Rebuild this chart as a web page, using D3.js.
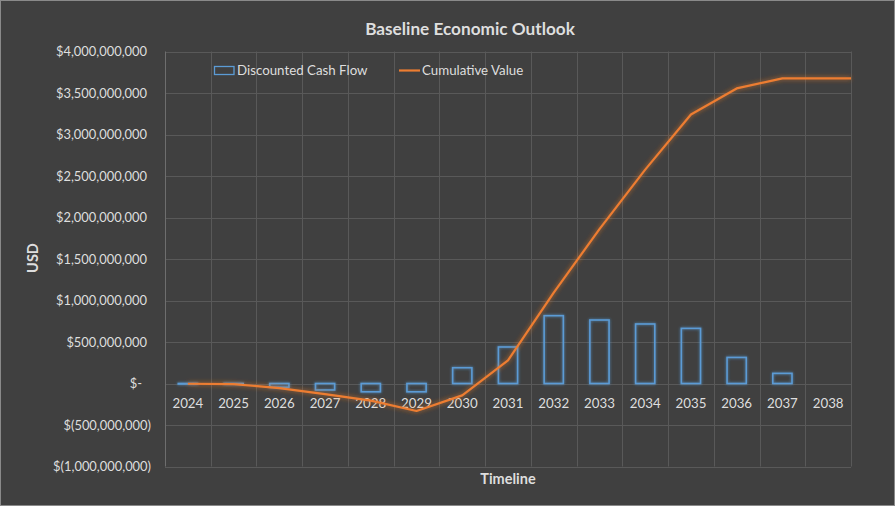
<!DOCTYPE html>
<html>
<head>
<meta charset="utf-8">
<script src="https://cdn.jsdelivr.net/npm/d3@7"></script>
<style>
  html, body { margin: 0; padding: 0; background: #404040; }
  svg { display: block; }
  text { font-family: Lato, "Open Sans", sans-serif; fill: #dedede; }
</style>
</head>
<body>
<script>
// ---- data ----
const years = ["2024","2025","2026","2027","2028","2029","2030","2031","2032","2033","2034","2035","2036","2037","2038"];
const discountedCashFlow = [-3e6, -5e6, -45e6, -78e6, -100e6, -100e6, 190e6, 440e6, 817e6, 765e6, 717e6, 664e6, 314e6, 122e6, 0];
const cumulativeValue = [-3e6, -8e6, -55e6, -127e6, -207e6, -331e6, -143e6, 278e6, 1095e6, 1860e6, 2577e6, 3241e6, 3555e6, 3677e6, 3677e6];
const yTicks = [-1e9, -5e8, 0, 5e8, 1e9, 1.5e9, 2e9, 2.5e9, 3e9, 3.5e9, 4e9];
const chartTitle = "Baseline Economic Outlook";
const xTitle = "Timeline";
const yTitle = "USD";
const seriesNames = ["Discounted Cash Flow", "Cumulative Value"];

// ---- layout ----
const W = 895, H = 506;
const plot = { left: 165, right: 851, top: 51.5, bottom: 466.5 };
const barColor = "#5b9bd5", lineColor = "#ed7d31";

const svg = d3.select("body").append("svg").attr("width", W).attr("height", H);

const defs = svg.append("defs");
function glow(id, color, sd, op) {
  const f = defs.append("filter").attr("id", id)
    .attr("x", "-50%").attr("y", "-50%").attr("width", "200%").attr("height", "200%");
  f.append("feGaussianBlur").attr("in", "SourceAlpha").attr("stdDeviation", sd).attr("result", "b");
  f.append("feFlood").attr("flood-color", color).attr("flood-opacity", op).attr("result", "c");
  f.append("feComposite").attr("in", "c").attr("in2", "b").attr("operator", "in").attr("result", "g");
  const m = f.append("feMerge");
  m.append("feMergeNode").attr("in", "g");
  m.append("feMergeNode").attr("in", "g");
  m.append("feMergeNode").attr("in", "SourceGraphic");
}
glow("glowBlue", barColor, 1.8, 0.45);
glow("glowOrange", lineColor, 2.4, 0.4);

svg.append("rect").attr("x", 0.5).attr("y", 0.5).attr("width", W - 1).attr("height", H - 1)
  .attr("fill", "#404040").attr("stroke", "#8a8a8a").attr("stroke-width", 1);

const x = d3.scaleBand().domain(years).range([plot.left, plot.right]).paddingInner(0).paddingOuter(0);
const y = d3.scaleLinear().domain([-1e9, 4e9]).range([plot.bottom, plot.top]);

// horizontal gridlines
svg.append("g").selectAll("line").data(yTicks).join("line")
  .attr("x1", plot.left).attr("x2", plot.right)
  .attr("y1", d => Math.round(y(d)) + 0.5).attr("y2", d => Math.round(y(d)) + 0.5)
  .attr("stroke", "#595959").attr("stroke-width", 1);

// vertical gridlines at category boundaries
const bounds = years.map(d => x(d)).concat([x.range()[1]]);
svg.append("g").selectAll("line").data(bounds.slice(1)).join("line")
  .attr("x1", d => Math.round(d) + 0.5).attr("x2", d => Math.round(d) + 0.5)
  .attr("y1", plot.top).attr("y2", plot.bottom)
  .attr("stroke", "#595959").attr("stroke-width", 1);

// left axis line
svg.append("line").attr("x1", plot.left + 0.5).attr("x2", plot.left + 0.5)
  .attr("y1", plot.top).attr("y2", plot.bottom).attr("stroke", "#6e6e6e");

// y tick labels (accounting format)
const fmt = d3.format(",.0f");
function acct(v) {
  if (v === 0) return "$-";
  if (v < 0) return "$(" + fmt(-v) + ")";
  return "$" + fmt(v);
}
svg.append("g").selectAll("text").data(yTicks).join("text")
  .attr("x", d => d < 0 ? 151 : (d === 0 ? 142 : 147))
  .attr("y", d => y(d) + 4.5)
  .attr("text-anchor", "end")
  .style("font-size", "12.9px")
  .text(acct);

// x tick labels
svg.append("g").selectAll("text").data(years).join("text")
  .attr("x", d => x(d) + x.bandwidth() / 2)
  .attr("y", y(0) + 24.5)
  .attr("text-anchor", "middle")
  .style("font-size", "13.3px")
  .text(d => d);

// bars
const barW = x.bandwidth() * 0.42;
svg.append("g").attr("filter", "url(#glowBlue)").selectAll("rect")
  .data(years.map((d, i) => ({ year: d, v: discountedCashFlow[i] })).filter(d => d.v !== 0))
  .join("rect")
  .attr("x", d => x(d.year) + (x.bandwidth() - barW) / 2)
  .attr("y", d => y(Math.max(0, d.v)))
  .attr("width", barW)
  .attr("height", d => Math.max(0.5, Math.abs(y(d.v) - y(0))))
  .attr("fill", "none").attr("stroke", barColor).attr("stroke-width", 1.6);

// cumulative line (extended flat to the plot edge as in the reference)
const pts = years.map((d, i) => [x(d) + x.bandwidth() / 2, y(cumulativeValue[i])]);
pts.push([x.range()[1], y(cumulativeValue[cumulativeValue.length - 1])]);
svg.append("path").attr("d", d3.line()(pts))
  .attr("fill", "none").attr("stroke", lineColor).attr("stroke-width", 2.2)
  .attr("stroke-linejoin", "round").attr("filter", "url(#glowOrange)");

// title
svg.append("text").attr("x", 470).attr("y", 35).attr("text-anchor", "middle")
  .style("font-size", "17.2px").style("font-weight", "bold").text(chartTitle);

// axis titles
svg.append("text").attr("x", 508).attr("y", 484).attr("text-anchor", "middle")
  .style("font-size", "14.5px").style("font-weight", "bold").text(xTitle);
svg.append("text").attr("transform", "translate(38,258) rotate(-90)").attr("text-anchor", "middle")
  .style("font-size", "14.5px").style("font-weight", "bold").text(yTitle);

// legend
const lg = svg.append("g");
lg.append("rect").attr("x", 214.5).attr("y", 66.5).attr("width", 19.5).attr("height", 8)
  .attr("fill", "none").attr("stroke", barColor).attr("stroke-width", 1.3);
lg.append("text").attr("x", 237).attr("y", 75).style("font-size", "13.3px").text(seriesNames[0]);
lg.append("line").attr("x1", 399).attr("x2", 420).attr("y1", 70.5).attr("y2", 70.5)
  .attr("stroke", lineColor).attr("stroke-width", 2.2);
lg.append("text").attr("x", 422).attr("y", 75).style("font-size", "13.3px").text(seriesNames[1]);
</script>
</body>
</html>
